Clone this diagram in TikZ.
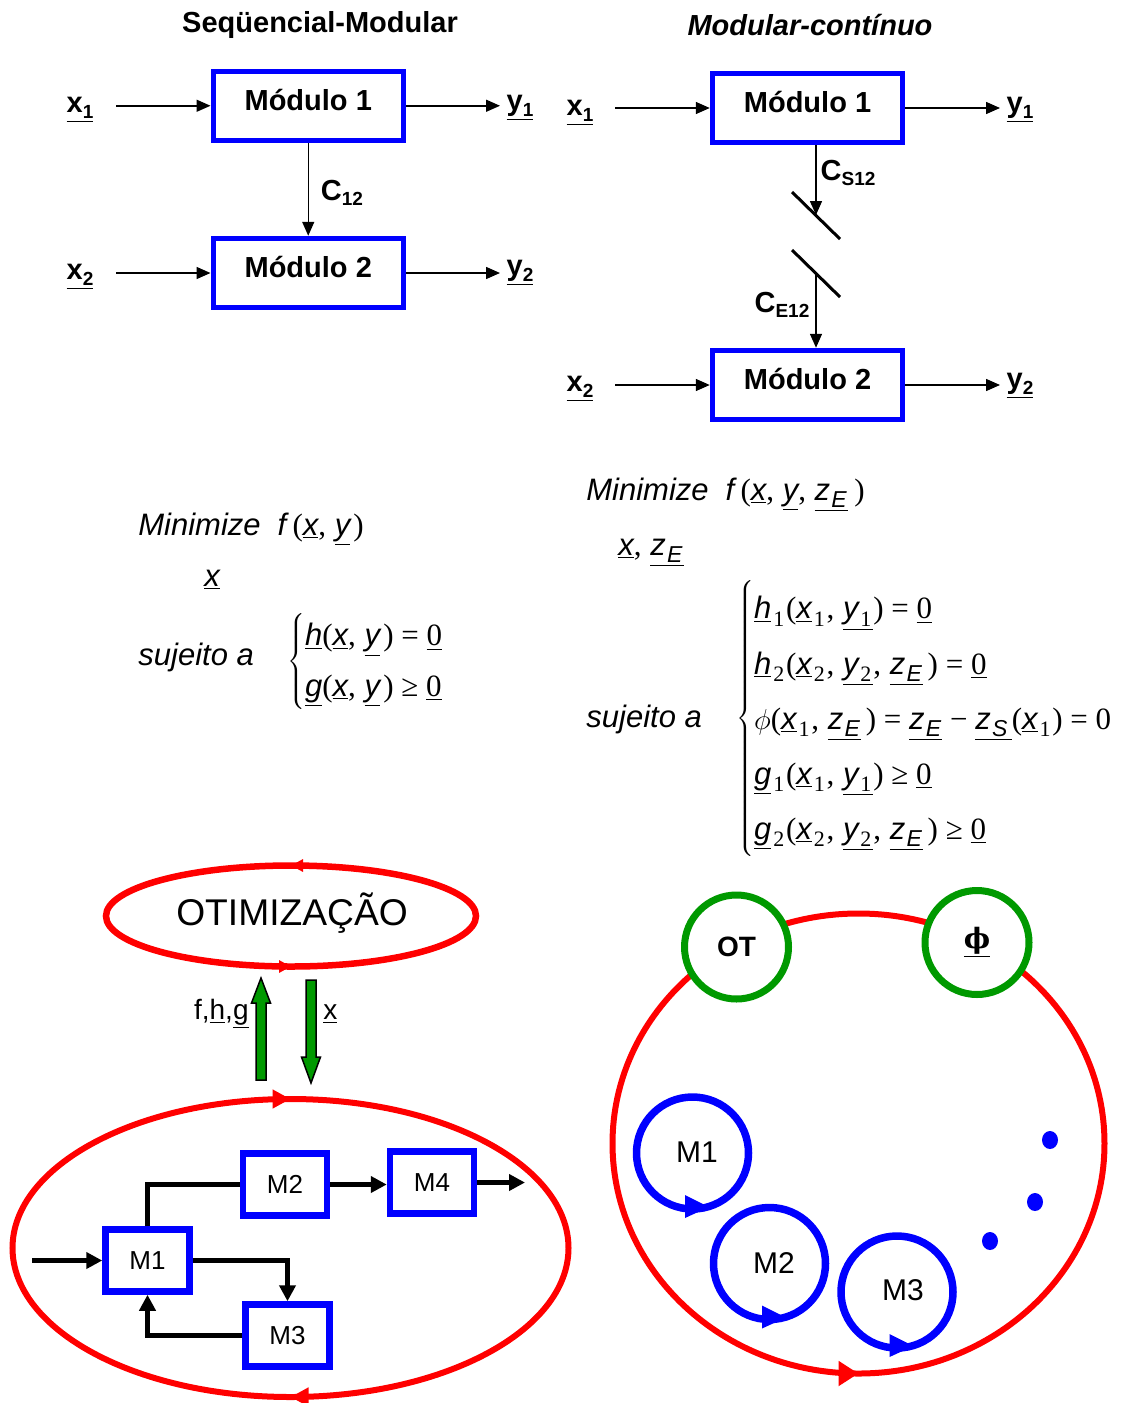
\documentclass[tikz,border=0pt]{standalone}
\usepackage{fontspec}
\setmainfont{Liberation Sans}
\newfontfamily\tnr{Liberation Serif}
\newfontfamily\dvserif{DejaVu Serif}
\usetikzlibrary{arrows.meta,decorations.markings}

\definecolor{hubgreen}{RGB}{0,153,0}

% pieces for the formulas
\newcommand{\undl}[1]{\underline{#1}}
\newcommand{\rn}[1]{{\tnr\upshape #1}}
\newcommand{\cm}{\rn{,}\hspace{0.28em}}
\newcommand{\lo}[1]{\hspace{0.06em}\raisebox{-0.45ex}{\fontsize{11}{12}\selectfont\tnr\upshape #1}\hspace{0.06em}}
\newcommand{\loi}[1]{\hspace{0.04em}\raisebox{-0.45ex}{\fontsize{11.5}{12}\selectfont\itshape #1}\hspace{0.04em}}
\newcommand{\sbx}[1]{\raisebox{-0.35ex}{\fontsize{9.5}{11}\selectfont #1}}

\begin{document}
\begin{tikzpicture}[x=0.5pt, y=-0.5pt,
  title/.style={font=\fontsize{14.5}{17}\selectfont\bfseries, inner sep=0},
  modbox/.style={draw=blue, line width=2.75pt, minimum width=95pt, minimum height=34.5pt,
    text depth=6pt, font=\fontsize{14.5}{17}\selectfont\bfseries},
  var/.style={font=\fontsize{14.5}{17}\selectfont\bfseries, inner sep=0},
  flow/.style={-{Triangle[length=7pt,width=6pt]}, line width=0.75pt},
  eqn/.style={font=\fontsize{15.5}{18}\selectfont, inner sep=0},
  blk/.style={draw=blue, line width=3.25pt, minimum width=42pt, minimum height=31pt,
    font=\fontsize{13}{15}\selectfont},
  link/.style={line width=2.25pt},
  linkarr/.style={link, -{Triangle[length=8pt,width=8pt]}},
  loopred/.style={red, line width=3.25pt, postaction={decorate}},
  hub/.style={circle, draw=hubgreen, fill=white, line width=3.5pt, minimum size=52pt,
    font=\fontsize{14}{16}\selectfont\bfseries},
  modloop/.style={draw=blue, line width=3.75pt},
  bigarrow/.style={draw=black, fill=hubgreen, line width=0.75pt},
]
\useasboundingbox (0,0) rectangle (1136,1403);

% ---- sequencial-modular
\node[title] (tseq) at (320,25) {Seqüencial-Modular};
\node[modbox] (a1) at (308.25,105.75) {Módulo 1};
\node[modbox] (a2) at (308.25,273) {Módulo 2};
\node[var] (ax1) at (80,110) {\undl{x\sbx{1}}};
\node[var] (ay1) at (520,108) {\undl{y\sbx{1}}};
\node[var] (ax2) at (80,277) {\undl{x\sbx{2}}};
\node[var] (ay2) at (520,273) {\undl{y\sbx{2}}};
\coordinate (ain1) at (116,105.75);
\coordinate (aout1) at (500,105.75);
\coordinate (ain2) at (116,273);
\coordinate (aout2) at (500,273);
\draw[flow] (ain1) -- (a1.west);
\draw[flow] (a1.east) -- (aout1);
\draw[flow] (ain2) -- (a2.west);
\draw[flow] (a2.east) -- (aout2);
\draw[flow] (a1.south) -- (a2.north);
\node[var] (ac12) at (342,193) {C\sbx{12}};

% ---- modular-continuo
\node[title, font=\fontsize{14.5}{17}\selectfont\bfseries\itshape] (tmod) at (810,25) {Modular-contínuo};
\node[modbox] (b1) at (807.5,108) {Módulo 1};
\node[modbox] (b2) at (807.5,385) {Módulo 2};
\node[var] (bx1) at (580,113) {\undl{x\sbx{1}}};
\node[var] (by1) at (1020,110) {\undl{y\sbx{1}}};
\node[var] (bx2) at (580,389) {\undl{x\sbx{2}}};
\node[var] (by2) at (1020,386) {\undl{y\sbx{2}}};
\coordinate (bin1) at (615,108);
\coordinate (bout1) at (1000,108);
\coordinate (bin2) at (615,385);
\coordinate (bout2) at (1000,385);
\draw[flow] (bin1) -- (b1.west);
\draw[flow] (b1.east) -- (bout1);
\draw[flow] (bin2) -- (b2.west);
\draw[flow] (b2.east) -- (bout2);
% torn stream between the modules
\coordinate (cs) at (816,215);
\coordinate (ce) at (816,274);
\draw[line width=1.5pt] (792,192) -- (840,239);
\draw[line width=1.5pt] (792,250) -- (840,297);
\draw[flow] (b1.south -| cs) -- (cs);
\draw[flow] (ce) -- (b2.north -| ce);
\node[var] (bcs) at (848,173) {C\sbx{S12}};
\node[var] (bce) at (782,305) {C\sbx{E12}};

% ---- problems
\node[eqn, anchor=base west] (pmin1) at (138,535)
  {{\itshape Minimize\hspace{0.55em}f}\hspace{0.2em}\rn{(}\undl{\itshape x}\cm\undl{\itshape y}\hspace{0.1em}\rn{)}};
\node[eqn, anchor=base west] (pvar1) at (204,586) {\undl{\itshape x}};
\node[eqn, anchor=base west] (psuj1) at (138,665) {\itshape sujeito a};
\node[eqn, anchor=west] (pcon1) at (287,661) {\renewcommand{\arraystretch}{1.39}%
  $\left\{\begin{tabular}{@{}l@{}}
  \undl{\itshape h}\rn{(}\undl{\itshape x}\cm\undl{\itshape y}\hspace{0.1em}\rn{) = }\undl{\rn{0}}\\
  \undl{\itshape g}\rn{(}\undl{\itshape x}\cm\undl{\itshape y}\hspace{0.1em}\rn{) ≥ }\undl{\rn{0}}
  \end{tabular}\right.$};

\node[eqn, anchor=base west] (pmin2) at (586,500)
  {{\itshape Minimize\hspace{0.55em}f}\hspace{0.2em}\rn{(}\undl{\itshape x}\cm\undl{\itshape y}\cm\undl{{\itshape z}\loi{E}}\hspace{0.2em}\rn{)}};
\node[eqn, anchor=base west] (pvar2) at (618,555) {\undl{\itshape x}\cm\undl{{\itshape z}\loi{E}}};
\node[eqn, anchor=base west] (psuj2) at (586,727) {\itshape sujeito a};
\node[eqn, anchor=west] (pcon2) at (736,718) {\renewcommand{\arraystretch}{1.528}%
  $\left\{\begin{tabular}{@{}l@{}}
  \undl{\itshape h}\lo{1}\rn{(}\undl{\itshape x}\lo{1}\cm\undl{{\itshape y}\lo{1}}\rn{) = }\undl{\rn{0}}\\
  \undl{\itshape h}\lo{2}\rn{(}\undl{\itshape x}\lo{2}\cm\undl{{\itshape y}\lo{2}}\cm\undl{{\itshape z}\loi{E}}\hspace{0.15em}\rn{) = }\undl{\rn{0}}\\
  $\phi$\rn{(}\undl{\itshape x}\lo{1}\cm\undl{{\itshape z}\loi{E}}\hspace{0.15em}\rn{) = }\undl{{\itshape z}\loi{E}}\rn{ − }\undl{{\itshape z}\loi{S}\hspace{0.1em}}\rn{(}\undl{\itshape x}\lo{1}\rn{) = 0}\\
  \undl{\itshape g}\lo{1}\rn{(}\undl{\itshape x}\lo{1}\cm\undl{{\itshape y}\lo{1}}\rn{) ≥ }\undl{\rn{0}}\\
  \undl{\itshape g}\lo{2}\rn{(}\undl{\itshape x}\lo{2}\cm\undl{{\itshape y}\lo{2}}\cm\undl{{\itshape z}\loi{E}}\hspace{0.15em}\rn{) ≥ }\undl{\rn{0}}
  \end{tabular}\right.$};

% ---- sequencial-modular strategy
\draw[loopred, decoration={markings,
    mark=at position 0.25 with {\arrow{Triangle[length=6pt,width=6pt]}},
    mark=at position 0.75 with {\arrow{Triangle[length=6pt,width=6pt]}}}]
  (291,916) ellipse [x radius=92.5pt, y radius=25.25pt];
\node[font=\fontsize{18.6}{21}\selectfont] (otim) at (292,913) {OTIMIZAÇÃO};
\draw[bigarrow] (256,1080) -- (266,1080) -- (266,1003) -- (270.5,1003) -- (261,978)
  -- (251.5,1003) -- (256,1003) -- cycle;
\draw[bigarrow] (306,980) -- (316,980) -- (316,1057) -- (320.5,1057) -- (311,1083)
  -- (301.5,1057) -- (306,1057) -- cycle;
\node[font=\fontsize{14}{16}\selectfont, anchor=east, inner sep=0] (fhg) at (249,1014) {f,\undl{h},\undl{g}};
\node[font=\fontsize{14}{16}\selectfont, anchor=west, inner sep=0] (xdec) at (323,1014) {\undl{x}};

\draw[loopred, line width=3pt, decoration={markings,
    mark=at position 0.25 with {\arrowreversed{Triangle[length=9pt,width=9pt]}},
    mark=at position 0.75 with {\arrowreversed{Triangle[length=9pt,width=9pt]}}}]
  (290.5,1248) ellipse [x radius=139pt, y radius=74.5pt];
\node[blk] (m1) at (147.5,1260.5) {M1};
\node[blk] (m2) at (285,1184.5) {M2};
\node[blk] (m4) at (432,1182.5) {M4};
\node[blk] (m3) at (287.5,1335.5) {M3};
\coordinate (feed) at (32,1260.5);
\coordinate (prod) at (525,1182.5);
\draw[linkarr] (feed) -- (m1.west);
\draw[link] (m1.north) |- (m2.west);
\draw[linkarr] (m2.east) -- (m2.east -| m4.west);
\draw[linkarr] (m4.east) -- (prod);
\draw[linkarr] (m1.east) -| (m3.north);
\draw[linkarr] (m3.west) -| (m1.south);

% ---- modular-continuo strategy
\draw[loopred, line width=3pt, decoration={markings,
    mark=at position 0.75 with {\arrow{Triangle[length=10pt,width=12pt]}}}]
  (858.5,1143.5) ellipse [x radius=123pt, y radius=115pt];
\node[hub] (ot) at (736.5,947) {OT};
\node[hub] (phi) at (977,942.5) {\undl{\dvserif\bfseries ϕ}};
% module loops, each with its arrowhead at the bottom
\draw[modloop] (692.5,1153) circle [radius=28pt];
\fill[blue] (685,1195) -- (685,1218) -- (709,1207) -- cycle;
\draw[modloop] (769.5,1263.5) circle [radius=28pt];
\fill[blue] (762,1305.5) -- (762,1328.5) -- (786,1317.5) -- cycle;
\draw[modloop] (897,1292) circle [radius=28pt];
\fill[blue] (889.5,1334) -- (889.5,1357) -- (913.5,1346) -- cycle;
\node[font=\fontsize{15}{17}\selectfont] (c1) at (697,1152) {M1};
\node[font=\fontsize{15}{17}\selectfont] (c2) at (774,1263) {M2};
\node[font=\fontsize{15}{17}\selectfont] (c3) at (903,1290) {M3};
\fill[blue] (1050,1140) ellipse [x radius=4pt, y radius=4.5pt];
\fill[blue] (1035,1202) ellipse [x radius=4pt, y radius=4.5pt];
\fill[blue] (990,1241) ellipse [x radius=4pt, y radius=4.5pt];
\end{tikzpicture}
\end{document}
